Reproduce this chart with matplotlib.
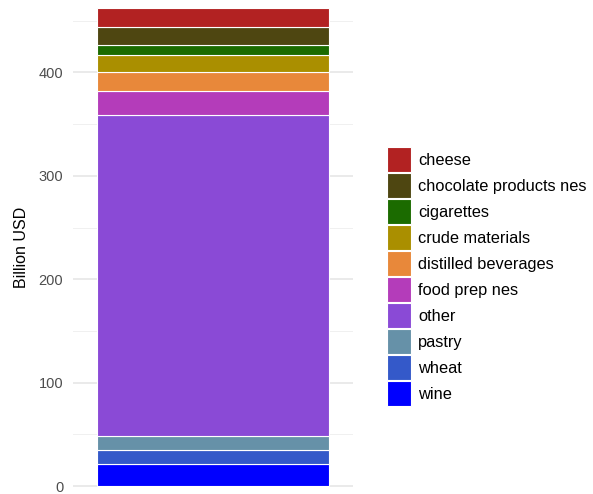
import matplotlib.pyplot as plt
from matplotlib.patches import Patch

# stacked from bottom to top
products = ['wine', 'wheat', 'pastry', 'other', 'food prep nes',
            'distilled beverages', 'crude materials', 'cigarettes',
            'chocolate products nes', 'cheese']
values = [21.3, 13.2, 14.1, 310.2, 23.5, 18.1, 16.1, 10.0, 17.1, 18.4]
colors = ['#0000FF', '#3459C9', '#6691A8', '#8A4AD6', '#B43CBA',
          '#E8883A', '#AA8F00', '#1B6B00', '#4E4611', '#B22222']

plt.rcParams['font.family'] = ['Liberation Sans', 'DejaVu Sans']

fig = plt.figure(figsize=(5.93, 4.94), dpi=100)
ax = fig.add_axes([73 / 593, 0, 280 / 593, 1])

bottom = 0
for name, v, c in zip(products, values, colors):
    ax.bar(1, v, width=0.9, bottom=bottom, color=c, edgecolor='white',
           linewidth=0.8, zorder=3)
    bottom += v

ax.set_xlim(1 - 0.9 * 140 / 233, 1 + 0.9 * 140 / 233)
ax.set_ylim(-7.7, 470)
ax.set_xticks([])
ax.set_yticks([0, 100, 200, 300, 400])
ax.set_yticks([50, 150, 250, 350, 450], minor=True)
ax.grid(axis='y', which='major', color='#e6e6e6', linewidth=1.2, zorder=0)
ax.grid(axis='y', which='minor', color='#f0f0f0', linewidth=0.7, zorder=0)
ax.tick_params(axis='y', which='both', length=0, labelsize=10.5,
               labelcolor='#4d4d4d', pad=7)
for s in ax.spines.values():
    s.set_visible(False)
ax.set_ylabel('Billion USD', fontsize=11.5, color='black', labelpad=7)

handles = [Patch(facecolor=c, edgecolor='white', linewidth=0.8, label=n)
           for n, c in zip(products, colors)]
handles = handles[::-1]
fig.legend(handles=handles, loc='upper left',
           bbox_to_anchor=(387 / 593, 1 - 147 / 494), frameon=False,
           fontsize=11.8, handlelength=1.47, handleheight=1.97,
           labelspacing=0.06, handletextpad=0.42, borderpad=0,
           borderaxespad=0)

plt.savefig('out.png', dpi=100)
